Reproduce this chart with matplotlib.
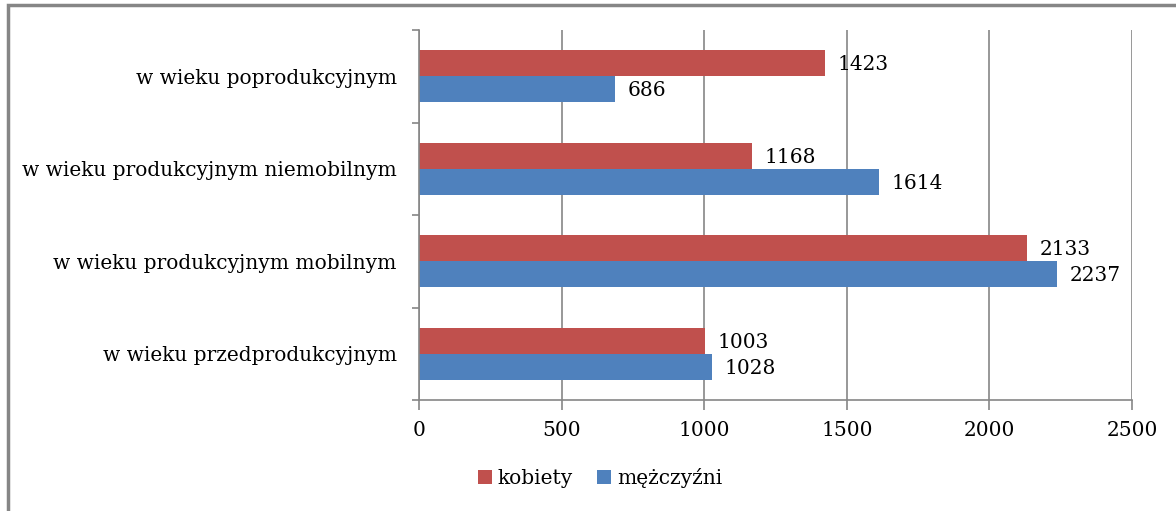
import numpy as np
import matplotlib.pyplot as plt
from matplotlib.patches import Rectangle

# data (top to bottom)
categories = ['w wieku poprodukcyjnym', 'w wieku produkcyjnym niemobilnym',
              'w wieku produkcyjnym mobilnym', 'w wieku przedprodukcyjnym']
kobiety = [1423, 1168, 2133, 1003]
mezczyzni = [686, 1614, 2237, 1028]
series_names = ['kobiety', 'mężczyźni']
colors = ['#C0504D', '#4F81BD']
x_ticks = [0, 500, 1000, 1500, 2000, 2500]

plt.rcParams['font.family'] = ['DejaVu Serif']
grey = '#868686'
fs = 14.5

fig = plt.figure(figsize=(11.76, 5.11), dpi=100)
ax = fig.add_axes([419 / 1176, 1 - 400 / 511, (1132 - 419) / 1176, (400 - 30) / 511])

# categories drawn top-to-bottom
y = np.arange(len(categories))[::-1].astype(float)
h = 0.28
b1 = ax.barh(y + h / 2, kobiety, height=h, color=colors[0], label=series_names[0])
b2 = ax.barh(y - h / 2, mezczyzni, height=h, color=colors[1], label=series_names[1])

for bars in (b1, b2):
    for rect in bars:
        w = rect.get_width()
        ax.annotate(f'{int(w)}', (w, rect.get_y() + rect.get_height() / 2),
                    xytext=(9, -1), textcoords='offset points',
                    va='center', ha='left', fontsize=fs, color='#000000')

ax.set_xlim(0, 2500)
ax.set_ylim(-0.5, len(categories) - 0.5)
ax.set_xticks(x_ticks)
ax.set_xticklabels([str(t) for t in x_ticks], fontsize=fs)
ax.xaxis.grid(True, color=grey, linewidth=1.2)
ax.set_axisbelow(True)

ax.set_yticks(y)
ax.set_yticklabels(categories, fontsize=fs)
ax.tick_params(axis='y', length=0, pad=16)
# minor ticks at category boundaries
ax.set_yticks(np.arange(-0.5, len(categories), 1.0), minor=True)
ax.tick_params(axis='y', which='minor', length=5, color=grey, width=1.2)
ax.tick_params(axis='x', length=7, color=grey, width=1.2, pad=8)

for side in ('top', 'right'):
    ax.spines[side].set_visible(False)
for side in ('left', 'bottom'):
    ax.spines[side].set_color(grey)
    ax.spines[side].set_linewidth(1.2)

ax.legend(loc='center', bbox_to_anchor=(600 / 1176, 1 - 478 / 511), bbox_transform=fig.transFigure,
          ncol=2, frameon=False, fontsize=fs, handlelength=0.7, handleheight=0.7,
          handletextpad=0.3, columnspacing=1.2)

# outer chart border (top and left visible)
fig.add_artist(Rectangle((8 / 1176, -0.1), 1.2, 1 - 5 / 511 + 0.1, transform=fig.transFigure,
                         fill=False, edgecolor=grey, linewidth=2.5))

fig.savefig('out.png', dpi=100)
